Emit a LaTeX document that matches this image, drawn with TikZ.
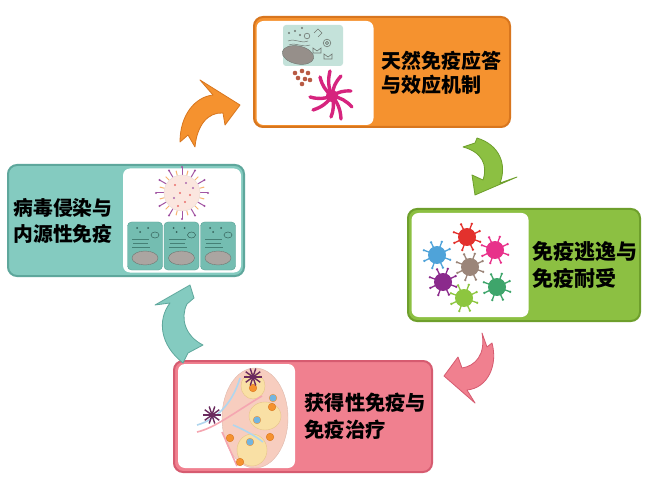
\documentclass[tikz,border=0pt]{standalone}
\usepackage{fontspec}
\newfontfamily\cjk{Noto Sans CJK SC}
\usetikzlibrary{positioning}

\definecolor{orfill}{HTML}{F5922F}
\definecolor{orline}{HTML}{D8761E}
\definecolor{grfill}{HTML}{8CC042}
\definecolor{grline}{HTML}{6E9F2C}
\definecolor{tlfill}{HTML}{84CBC0}
\definecolor{tlline}{HTML}{5EA79C}
\definecolor{pkfill}{HTML}{F0808F}
\definecolor{pkline}{HTML}{D65B70}
\definecolor{cellfill}{HTML}{C4E2DA}
\definecolor{cellteal}{HTML}{74BDB1}
\definecolor{cellline}{HTML}{56A094}
\definecolor{nucgrey}{HTML}{968F8A}
\definecolor{nucline}{HTML}{6F7772}
\definecolor{dcpink}{HTML}{D6247E}
\definecolor{dcpurple}{HTML}{6B2A5E}
\definecolor{granule}{HTML}{B85A44}
\definecolor{nodepeach}{HTML}{F7CDBF}
\definecolor{lobe}{HTML}{F9E0A5}
\definecolor{lobeline}{HTML}{E6C489}
\definecolor{vblue}{HTML}{4FA3D9}
\definecolor{vred}{HTML}{E3312D}
\definecolor{vmagenta}{HTML}{E8318A}
\definecolor{vbrown}{HTML}{9B8579}
\definecolor{vpurple}{HTML}{8B2A8C}
\definecolor{vlime}{HTML}{8DC63F}
\definecolor{vgreen}{HTML}{3EA56B}

\begin{document}
\begin{tikzpicture}[x=1pt,y=-1pt,
  stagebox/.style={draw, line width=2pt, rounded corners=9pt, inner sep=0pt},
  panel/.style={fill=white, rounded corners=7pt, inner sep=0pt,
    minimum width=117pt, minimum height=104pt},
  stagetext/.style={font=\cjk\bfseries\fontsize{20}{24}\selectfont,
    align=left, inner sep=0pt},
  cyclearrow/.style={line width=0.8pt, line join=round},
]
\fill[white] (0,0) rectangle (650,478);
\useasboundingbox (0,0) rectangle (650,478);

% stage boxes
\node[stagebox, fill=orfill, draw=orline, minimum width=256pt, minimum height=110pt] (innate) at (382,72) {};
\node[stagebox, fill=grfill, draw=grline, minimum width=232pt, minimum height=112pt] (escape) at (524,265) {};
\node[stagebox, fill=tlfill, draw=tlline, minimum width=236pt, minimum height=111pt] (infect) at (126,220.5) {};
\node[stagebox, fill=pkfill, draw=pkline, minimum width=258pt, minimum height=111pt] (adaptive) at (303,416.5) {};

% white picture panels
\node[panel] (innatepic) at (315,73) {};
\node[panel] (escapepic) at (470,265) {};
\node[panel, minimum width=118pt] (infectpic) at (182,220.5) {};
\node[panel] (adaptivepic) at (236.5,416) {};

% labels
\node[stagetext, font=\cjk\bfseries\fontsize{20}{23.5}\selectfont, right=8pt of innatepic] (innatelbl) {天然免疫应答\\与效应机制};
\node[stagetext, font=\cjk\bfseries\fontsize{21}{26.5}\selectfont, right=4pt of escapepic] (escapelbl) {免疫逃逸与\\免疫耐受};
\node[stagetext, font=\cjk\bfseries\fontsize{19.8}{26}\selectfont, left=10pt of infectpic] (infectlbl) {病毒侵染与\\内源性免疫};
\node[stagetext, font=\cjk\bfseries\fontsize{20.3}{27}\selectfont, right=9pt of adaptivepic] (adaptivelbl) {获得性免疫与\\免疫治疗};

% cycle arrows
\filldraw[cyclearrow, fill=orfill, draw=orline] (240,105) -- (225,125) -- (223,113)
  .. controls (208,112) and (197,125) .. (195,147) -- (188,135) -- (180,142)
  .. controls (180,115) and (195,97) .. (213,95) -- (200,80) -- cycle;
\filldraw[cyclearrow, fill=grfill, draw=grline] (475,195) -- (472,175) -- (483,180)
  .. controls (488,165) and (482,152) .. (463,147) -- (475,143) -- (477,138)
  .. controls (500,145) and (507,165) .. (500,183) -- (517,177) -- cycle;
\filldraw[cyclearrow, fill=pkfill, draw=pkline] (444,376) -- (458,357) -- (462,368)
  .. controls (475,366) and (486,355) .. (482,333) -- (487,347) -- (492,343)
  .. controls (498,365) and (488,388) .. (467,390) -- (475,403) -- cycle;
\filldraw[cyclearrow, fill=tlfill, draw=tlline] (190,285) -- (194,298) -- (187,304)
  .. controls (180,318) and (185,336) .. (203,345) -- (188,353) -- (183,363)
  .. controls (160,345) and (157,320) .. (170,303) -- (155,305) -- cycle;

% innate picture: cell, granules, dendritic cell
\fill[cellfill, rounded corners=3pt] (283,25) rectangle (343,66);
\filldraw[fill=nucgrey, draw=nucline, rotate around={-12:(298,55)}] (298,55) ellipse [x radius=16, y radius=9];
\foreach \p in {(289,33),(295,31),(302,28),(300,35)}
  \fill[nucline] \p circle (1.2);
\draw[nucline, line width=0.5pt] (288,41) .. controls (296,38) and (300,44) .. (308,41)
  (289,45) .. controls (297,42) and (301,48) .. (310,45);
\draw[nucline, line width=0.6pt] (307,36) circle (2.8)
  (314,33) -- (318,29) -- (322,33) -- (318,37)
  (313,48) -- (313,53) -- (321,53) -- (321,48) -- (317,51) -- cycle
  (324,54) -- (324,59) -- (332,59) -- (332,54) -- (328,57) -- cycle
  (327,43) circle (3.8) (327,43) circle (1.6);
\foreach \p in {(295,73),(302,71),(308,73),(298,78),(305,79),(302,84),(310,80)}
  \fill[granule] \p circle (2.3);
\foreach \qx/\qy in {320/77,330/71,341/76,351/91,352/107,341/119,331/117,313/110,310/97}
  \draw[dcpink, line width=3.4pt, line cap=round] (332,96) to[bend left=18] (\qx,\qy);
\fill[dcpink] (332,96) circle (6);

% escape picture: seven viruses
\foreach \vx/\vy/\vc in {437/255/vblue, 467/237/vred, 495/250/vmagenta, 470/267/vbrown,
    443/282/vpurple, 464/298/vlime, 497/287/vgreen} {
  \foreach \a in {0,45,...,315} {
    \draw[\vc, line width=1.3pt] (\vx,\vy) ++(\a+20:7) -- ++(\a+20:7);
    \fill[\vc] (\vx,\vy) ++(\a+20:14) circle (1.3);
  }
  \fill[\vc] (\vx,\vy) circle (9);
}

% infection picture: virus and three cells
\foreach \a in {0,30,...,330} {
  \draw[vpurple!80, line width=1pt] (182,193) ++(\a:18) -- ++(\a:8);
  \fill[vpurple!80] (182,193) ++(\a:26) circle (1.2);
}
\foreach \a in {15,45,...,345}
  \draw[orfill!70, line width=1pt] (182,193) ++(\a:18) -- ++(\a:5);
\filldraw[fill=nodepeach!50, draw=nodepeach!80!black!40] (182,193) circle (18);
\foreach \px/\py/\c in {175/185/vred, 186/183/vpurple, 180/193/vred, 190/195/vred,
    174/198/vpurple, 185/202/vred, 193/188/vpurple, 178/206/vred}
  \fill[\c!70] (\px,\py) circle (1.1);
\foreach \cx in {145,181.5,218} {
  \filldraw[fill=cellteal, draw=cellline, rounded corners=4pt] (\cx-17.5,222) rectangle (\cx+17.5,270);
  \filldraw[fill=nucgrey!80, draw=nucline] (\cx,258) ellipse [x radius=13, y radius=7];
  \draw[cellline!80!black, line width=0.5pt] (\cx-13,239) -- (\cx+4,239)
    (\cx-12,243) -- (\cx+3,243) (\cx-13,247) -- (\cx+5,247);
  \fill[cellline!60!black] (\cx-8,228) circle (1) (\cx+3,228) circle (1) (\cx-5,232) circle (1);
  \draw[cellline!60!black, line width=0.5pt] (\cx+10,235) ellipse [x radius=4, y radius=3];
}

% adaptive picture: lymph node
\filldraw[fill=nodepeach, draw=nodepeach!90!black] (255,418) ellipse [x radius=33, y radius=50];
\fill[white] (214,398) circle (8);
\filldraw[fill=lobe, draw=lobeline] (253,386) ellipse [x radius=12, y radius=13];
\filldraw[fill=lobe, draw=lobeline] (265,416) ellipse [x radius=16, y radius=14];
\filldraw[fill=lobe, draw=lobeline] (252,450) ellipse [x radius=15, y radius=16];
\draw[pkfill!70, line width=1.6pt] (197,432) .. controls (215,428) and (235,412) .. (262,396)
  (222,432) .. controls (228,445) and (232,455) .. (237,466);
\draw[vblue!45, line width=1.6pt] (197,425) .. controls (215,420) and (232,405) .. (240,378)
  (233,425) .. controls (245,430) and (255,436) .. (263,442);
\foreach \px/\py in {273/398,257/420,250/442}
  \filldraw[fill=vblue!80, draw=orfill] (\px,\py) circle (3.8);
\foreach \px/\py in {253/388,272/407,270/437,230/438,240/462}
  \filldraw[fill=orfill, draw=orline] (\px,\py) circle (3.8);
\foreach \dx/\dy in {253/377, 212/415}
  \foreach \a in {0,36,...,324}
    \draw[dcpurple, line width=1.4pt] (\dx,\dy) -- ++(\a:9);
\end{tikzpicture}
\end{document}
